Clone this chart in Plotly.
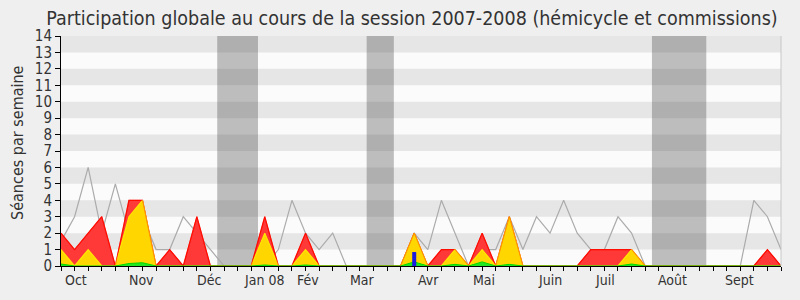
import plotly.graph_objects as go

weeks = list(range(54))
# red: total presences
presence_total = [2, 1, 2, 3, 0, 4, 4, 0, 1, 0, 3, 0, 0, 0, 0, 3, 0, 0, 2, 0,
                  0, 0, 0, 0, 0, 0, 2, 0, 1, 1, 0, 2, 0, 3, 0, 0, 0, 0, 0, 1,
                  1, 1, 1, 0, 0, 0, 0, 0, 0, 0, 0, 0, 1, 0]
# yellow
presence_hemicycle = [1, 0, 1, 0, 0, 3, 4, 0, 0, 0, 0, 0, 0, 0, 0, 2, 0, 0, 1, 0,
                      0, 0, 0, 0, 0, 0, 2, 0, 0, 1, 0, 1, 0, 3, 0, 0, 0, 0, 0, 0,
                      0, 0, 1, 0, 0, 0, 0, 0, 0, 0, 0, 0, 0, 0]
# green
interventions = [0.12, 0, 0, 0, 0, 0.15, 0.2, 0, 0, 0, 0, 0, 0, 0, 0, 0.06, 0, 0, 0.06, 0,
                 0, 0, 0, 0, 0, 0, 0.25, 0, 0, 0.1, 0, 0.25, 0, 0.1, 0, 0, 0, 0, 0, 0,
                 0, 0, 0.12, 0, 0, 0, 0, 0, 0, 0, 0, 0, 0, 0]
# gray line
median_line = [1.5, 3, 6, 2, 5, 2, 3, 1, 1, 3, 2, 1, 0, 0, 0, 0, 1, 4, 2, 1,
               2, 0, 0, 0, 0, 0, 2, 1, 4, 2, 0, 1, 1, 3, 1, 3, 2, 4, 2, 1,
               1, 3, 2, 0, 0, 0, 0, 0, 0, 0, 0, 4, 3, 1]
# blue bar
question_weeks = [26]
question_values = [0.85]

vacation_start = [11.5, 22.5, 43.5]
vacation_end = [14.5, 24.5, 47.5]

month_labels = ["Oct", "Nov", "Déc", "Jan 08", "Fév", "Mar", "Avr", "Mai", "Juin", "Juil", "Août", "Sept"]
month_pos = [1.1, 5.93, 10.93, 14.91, 18.15, 22.16, 27.05, 31.14, 35.99, 40.01, 44.98, 49.91]

FONT = "DejaVu Sans Condensed, DejaVu Sans"

fig = go.Figure()
fig.add_trace(go.Scatter(x=weeks, y=median_line, mode="lines",
                         line=dict(color="#ABABAB", width=1.2), hoverinfo="skip"))
fig.add_trace(go.Scatter(x=weeks, y=presence_total, mode="lines", fill="tozeroy",
                         fillcolor="#FF3838", line=dict(color="#FF0000", width=1.2)))
fig.add_trace(go.Scatter(x=weeks, y=presence_hemicycle, mode="lines", fill="tozeroy",
                         fillcolor="#FFD600", line=dict(color="#FFE800", width=1.2)))
fig.add_trace(go.Scatter(x=weeks, y=presence_total, mode="lines",
                         line=dict(color="#FF2000", width=1), opacity=0.45))
fig.add_trace(go.Scatter(x=weeks, y=interventions, mode="lines", fill="tozeroy",
                         fillcolor="#22E622", line=dict(color="#00D800", width=1)))
for w, v in zip(question_weeks, question_values):
    fig.add_trace(go.Scatter(x=[w, w], y=[0, v], mode="lines",
                             line=dict(color="#1A1AE0", width=4)))

shapes = []
for k in range(1, 14, 2):
    shapes.append(dict(type="rect", xref="paper", yref="y", x0=0, x1=1, y0=k, y1=k + 1,
                       fillcolor="#E6E6E6", line=dict(width=0), layer="below"))
for a, b in zip(vacation_start, vacation_end):
    shapes.append(dict(type="rect", xref="x", yref="paper", x0=a, x1=b, y0=0, y1=1,
                       fillcolor="rgba(60,60,60,0.32)", line=dict(width=0), layer="below"))
shapes.append(dict(type="line", xref="paper", yref="paper", x0=1, x1=1, y0=0, y1=1,
                   line=dict(color="#C8C8C8", width=1)))

annotations = []
for lab, pos in zip(month_labels, month_pos):
    annotations.append(dict(x=pos, y=0, xref="x", yref="paper", text=lab, showarrow=False,
                            yanchor="top", yshift=-4, font=dict(size=14, color="#333333", family=FONT)))
annotations.append(dict(x=-43 / 720, y=0.535, xref="paper", yref="paper",
                        text="Séances par semaine", textangle=-90, showarrow=False,
                        xanchor="center", yanchor="middle",
                        font=dict(size=16, color="#333333", family=FONT)))

fig.update_layout(
    width=800, height=300,
    margin=dict(l=61, r=19, t=36, b=34),
    paper_bgcolor="#EFEFEF", plot_bgcolor="#FBFBFB",
    showlegend=False,
    title=dict(text="Participation globale au cours de la session 2007-2008 (hémicycle et commissions)",
               x=0.515, xanchor="center", y=0.94, yanchor="middle",
               font=dict(size=19.5, color="#333333", family=FONT)),
    shapes=shapes, annotations=annotations,
    xaxis=dict(range=[0, 53], tickvals=weeks, showticklabels=False, ticks="outside",
               ticklen=4, tickcolor="#000000", showline=True, linecolor="#000000",
               showgrid=False, zeroline=False, fixedrange=True),
    yaxis=dict(range=[0, 14], tickvals=list(range(15)), ticks="outside", ticklen=5,
               tickcolor="#000000", showline=True, linecolor="#000000", showgrid=False,
               zeroline=False, tickfont=dict(size=15, color="#333333", family=FONT)),
)

fig.write_html("out.html")
